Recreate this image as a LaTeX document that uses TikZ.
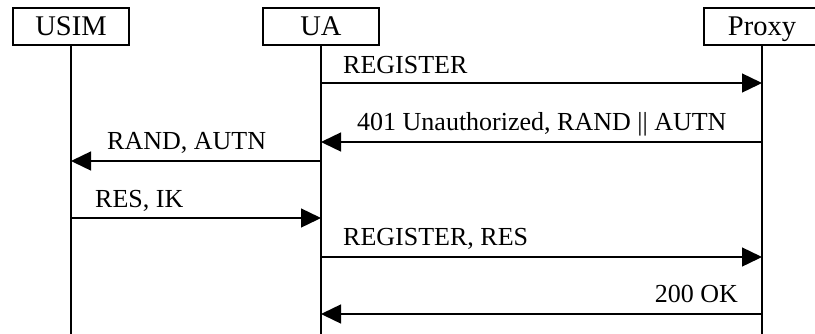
\documentclass[tikz,border=0pt]{standalone}
\usepackage{fontspec}
\setmainfont{Liberation Serif}
\usetikzlibrary{arrows.meta}
\begin{document}
\begin{tikzpicture}[x=1pt,y=-1pt,
  font=\fontsize{26}{30}\selectfont,
  actor/.style={draw,line width=1.2pt,minimum width=116pt,minimum height=37pt,inner sep=0pt,text depth=0pt,
    font=\fontsize{28.5}{32}\selectfont},
  lifeline/.style={line width=1.5pt},
  msg/.style={line width=1.4pt,-{Triangle[length=20pt,width=19pt]}},
  lbl/.style={inner sep=0pt}]
\useasboundingbox (0,0) rectangle (815,333);
\clip (0,0) rectangle (815,333);
\fill[white] (0,0) rectangle (815,333);

% participants
\node[actor] (usim)  at (71,26.5)  {USIM};
\node[actor] (ua)    at (321,26.5) {UA};
\node[actor] (proxy) at (762,26.5) {Proxy};

% lifeline ends
\coordinate (usimEnd)  at (71,334);
\coordinate (uaEnd)    at (321,334);
\coordinate (proxyEnd) at (762,334);
\draw[lifeline] (usim.south)  -- (usimEnd);
\draw[lifeline] (ua.south)    -- (uaEnd);
\draw[lifeline] (proxy.south) -- (proxyEnd);

% message anchor points on the lifelines
\coordinate (ua1) at (321,83);   \coordinate (px1) at (762,83);
\coordinate (px2) at (762,142);  \coordinate (ua2) at (321,142);
\coordinate (ua3) at (321,161);  \coordinate (us3) at (71,161);
\coordinate (us4) at (71,218);   \coordinate (ua4) at (321,218);
\coordinate (ua5) at (321,257);  \coordinate (px5) at (762,257);
\coordinate (px6) at (762,314);  \coordinate (ua6) at (321,314);

% messages
\draw[msg] (ua1) -- (px1);
\draw[msg] (px2) -- (ua2);
\draw[msg] (ua3) -- (us3);
\draw[msg] (us4) -- (ua4);
\draw[msg] (ua5) -- (px5);
\draw[msg] (px6) -- (ua6);

% message labels
\node[lbl,anchor=base west] (l1) at (343,73)  {REGISTER};
\node[lbl,anchor=base west] (l2) at (357,130) {401 Unauthorized, RAND || AUTN};
\node[lbl,anchor=base west] (l3) at (107,149) {RAND, AUTN};
\node[lbl,anchor=base west] (l4) at (95,207)  {RES, IK};
\node[lbl,anchor=base west] (l5) at (343,245) {REGISTER, RES};
\node[lbl,anchor=base east] (l6) at (738,302.5) {200 OK};
\end{tikzpicture}
\end{document}
